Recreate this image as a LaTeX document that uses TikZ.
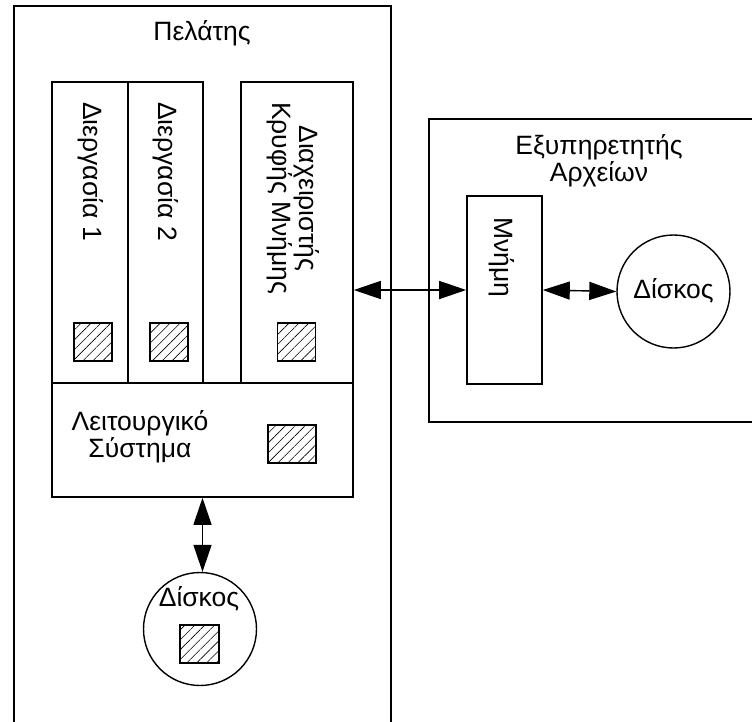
\documentclass[tikz,border=0pt]{standalone}
\usepackage{fontspec}
\setmainfont{Liberation Sans}
\usetikzlibrary{arrows.meta,patterns.meta}
\begin{document}
\begin{tikzpicture}[x=1pt,y=-1pt,
  every node/.style={font=\fontsize{26.5}{27.5}\selectfont},
  box/.style={draw, line width=1.6pt, rectangle, inner sep=0pt},
  hatch/.style={draw, line width=1.2pt, rectangle, inner sep=0pt,
    pattern={Lines[angle=45,distance=7pt,line width=0.6pt]}},
  disk/.style={draw, circle, line width=1.4pt, minimum size=113pt, inner sep=0pt},
  lbl/.style={inner sep=0pt, align=center},
  vlbl/.style={inner sep=0pt, align=center, rotate=-90, anchor=west},
  conn/.style={{Triangle[length=27pt,width=18pt]}-{Triangle[length=27pt,width=18pt]}, line width=1.4pt}
]
\clip (0,0) rectangle (752,721);
% client
\node[box, minimum width=377pt, minimum height=754pt] (client) at (202.5,383) {};
\node[lbl] (clientlbl) at (202,33) {Πελάτης};
% processes
\node[box, minimum width=76pt, minimum height=301pt] (proc1) at (90,232.5) {};
\node[box, minimum width=75pt, minimum height=301pt] (proc2) at (165.5,232.5) {};
\node[box, minimum width=112pt, minimum height=301pt] (cache) at (297,232.5) {};
\node[vlbl] (proc1lbl) at (91,102) {Διεργασία 1};
\node[vlbl] (proc2lbl) at (166,102) {Διεργασία 2};
\node[vlbl] (cachelbl) at (293,102) {Διαχειριστής\\Κρυφής Μνήμης};
\node[hatch, minimum width=38pt, minimum height=38pt] (sq1) at (93,342) {};
\node[hatch, minimum width=38pt, minimum height=38pt] (sq2) at (169,342) {};
\node[hatch, minimum width=38pt, minimum height=38pt] (sq3) at (296.5,342) {};
% OS
\node[box, minimum width=301pt, minimum height=114pt] (os) at (202.5,440) {};
\node[lbl] (oslbl) at (140,437) {Λειτουργικό\\Σύστημα};
\node[hatch, minimum width=48pt, minimum height=38pt] (sqos) at (292,444) {};
% client disk
\node[disk] (disk1) at (200,629) {};
\node[lbl] (disk1lbl) at (199,599) {Δίσκος};
\node[hatch, minimum width=39pt, minimum height=38pt] (sqd) at (199.5,644) {};
% server
\node[box, minimum width=371pt, minimum height=303pt] (server) at (614.5,270.5) {};
\node[lbl] (serverlbl) at (599,161) {Εξυπηρετητής\\Αρχείων};
\node[box, minimum width=75pt, minimum height=188pt] (mem) at (504.5,290) {};
\node[vlbl] (memlbl) at (502,217) {Μνήμη};
\node[disk] (disk2) at (673.5,291.5) {};
\node[lbl] (disk2lbl) at (673.5,291) {Δίσκος};
% connectors
\draw[conn] (mem.west -| cache.east) -- (mem.west);
\draw[conn] (mem.east) -- (disk2.west);
\draw[conn] (os.south) -- (os.south |- disk1.north);
\end{tikzpicture}
\end{document}
